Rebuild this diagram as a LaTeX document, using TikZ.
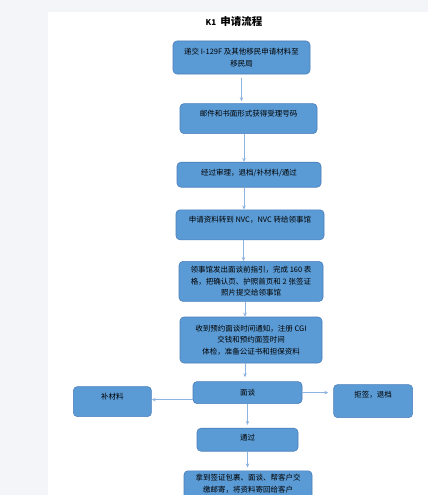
\documentclass[tikz,border=0pt]{standalone}
\usepackage{fontspec}
\usepackage{tikz}
\usetikzlibrary{arrows.meta, positioning}
\newfontfamily\cjk{Noto Sans CJK SC}
\definecolor{boxBlue}{HTML}{5B9BD5}
\definecolor{boxLine}{HTML}{4A7EBB}
\definecolor{arrBlue}{HTML}{8DB3E2}
\definecolor{pageGray}{HTML}{F3F5F9}

\begin{document}
\begin{tikzpicture}[x=1pt, y=-1pt,
  flowbox/.style={draw=boxLine, fill=boxBlue, rounded corners=4pt, align=center,
               font=\cjk\fontsize{7.5}{11.5}\selectfont, inner sep=0pt, line width=0.6pt},
  lift/.style={text depth=#1},
  arr/.style={-{Stealth[length=4pt,width=3.5pt]}, color=arrBlue, line width=0.7pt}
]
  \fill[pageGray] (0,0) rectangle (428,495);
  \fill[white] (48,12) rectangle (428,495);
  \useasboundingbox (0,0) rectangle (428,495);

  \node[font=\cjk\bfseries\fontsize{10.5}{12}\selectfont] (title) at (234,22)
    {{\fontsize{8}{8}\selectfont K1}\hspace{4pt}申请流程};

  \node[flowbox, minimum width=137pt, minimum height=33pt] (b1) at (241.5,57.5)
    {递交 I-129F 及其他移民申请材料至\\移民局};
  \node[flowbox, lift=10.7pt, minimum width=137pt, minimum height=30pt, below=29pt of b1, xshift=7pt] (b2)
    {邮件和书面形式获得受理号码};
  \node[flowbox, lift=5.7pt, minimum width=144pt, minimum height=25pt, below=28pt of b2, xshift=0.5pt] (b3)
    {经过审理，退档/补材料/通过};
  \node[flowbox, lift=10.7pt, minimum width=148pt, minimum height=30pt, below=22pt of b3, xshift=1pt] (b4)
    {申请资料转到 NVC，NVC 转给领事馆};
  \node[flowbox, minimum width=144pt, minimum height=40pt, below=21pt of b4, xshift=1pt] (b5)
    {领事馆发出面谈前指引，完成 160 表\\格，把确认页、护照首页和 2 张签证\\照片提交给领事馆};
  \node[flowbox, minimum width=142pt, minimum height=46pt, below=15pt of b5] (b6)
    {收到预约面谈时间通知，注册 CGI\\交钱和预约面签时间\\体检，准备公证书和担保资料};
  \node[flowbox, minimum width=109pt, minimum height=22pt, below=18pt of b6, xshift=-3.5pt] (b7)
    {面谈};
  \node[flowbox, lift=10.7pt, minimum width=78pt, minimum height=30pt, left=41pt of b7, yshift=-9pt] (bu)
    {补材料};
  \node[flowbox, lift=13.7pt, minimum width=79pt, minimum height=33pt, right=31pt of b7, yshift=-8.5pt] (ju)
    {拒签，退档};
  \node[flowbox, lift=3.7pt, minimum width=101pt, minimum height=23pt, below=24pt of b7] (b8)
    {通过};
  \node[flowbox, minimum width=128pt, minimum height=40pt, below=19pt of b8, xshift=0.5pt] (b9)
    {拿到签证包裹、面谈、帮客户交\\缴邮寄，将资料寄回给客户\\[4pt]};

  \draw[arr] ([yshift=-4pt]b1.south) -- ([yshift=2pt]b1.south |- b2.north);
  \draw[arr] ([xshift=-4.5pt]b2.south) -- ([xshift=-4.5pt]b2.south |- b3.north);
  \draw[arr] ([xshift=-5pt]b3.south) -- ([xshift=-5pt]b3.south |- b4.north);
  \draw[arr] ([xshift=-6.5pt]b4.south) -- ([xshift=-6.5pt]b4.south |- b5.north);
  \draw[arr] ([xshift=-6pt]b5.south) -- ([xshift=-6pt]b5.south |- b6.north);
  \draw[arr] ([xshift=-6pt]b6.south) -- ([xshift=-6pt,yshift=4pt]b6.south |- b7.north);
  \draw[arr] (b7.south) -- ([yshift=3pt]b7.south |- b8.north);
  \draw[arr] (b8.south) -- ([yshift=3pt]b8.south |- b9.north);
  \draw[arr] ([yshift=-7pt]b7.west) -- ([yshift=-7pt]b7.west -| bu.east);
  \draw[arr] (b7.east) -- ([xshift=-5pt]b7.east -| ju.west);
\end{tikzpicture}
\end{document}
